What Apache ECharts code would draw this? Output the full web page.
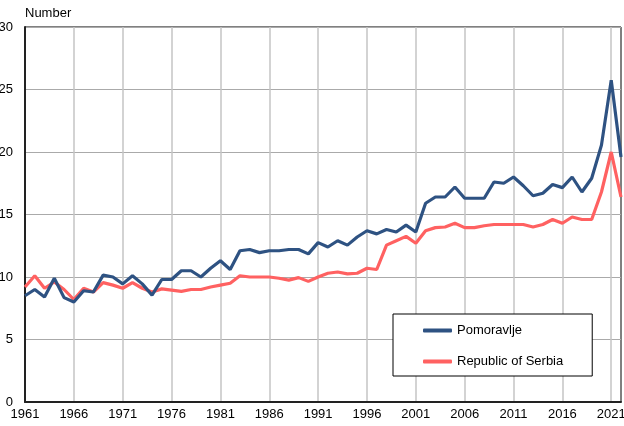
<!DOCTYPE html>
<html><head><meta charset="utf-8">
<script src="https://cdn.jsdelivr.net/npm/echarts@6/dist/echarts.min.js"></script>
<style>html,body{margin:0;padding:0;background:#fff}#c{width:624px;height:426px}</style>
</head><body><div id="c"></div>
<script>
const years = [];
for (let y = 1961; y <= 2022; y++) years.push(String(y));
const pomoravlje = [8.5,9.0,8.4,9.9,8.35,8.0,8.9,8.8,10.15,10.0,9.45,10.1,9.45,8.55,9.8,9.8,10.5,10.5,10.0,10.7,
  11.3,10.6,12.1,12.2,11.95,12.1,12.1,12.2,12.2,11.85,12.75,12.4,12.9,12.55,13.2,13.7,13.45,13.8,13.6,14.15,
  13.6,15.9,16.4,16.4,17.2,16.3,16.3,16.3,17.6,17.5,18.0,17.3,16.5,16.7,17.4,17.15,18.0,16.8,17.9,20.55,25.75,19.6];
const serbia = [9.2,10.1,9.1,9.6,9.0,8.2,9.1,8.8,9.55,9.35,9.1,9.55,9.1,8.8,9.05,8.95,8.85,9.0,9.0,9.2,
  9.35,9.5,10.1,10.0,10.0,10.0,9.9,9.75,9.95,9.65,10.0,10.3,10.4,10.25,10.3,10.7,10.6,12.55,12.9,13.25,
  12.7,13.7,13.95,14.0,14.3,13.95,13.95,14.1,14.2,14.2,14.2,14.2,14.0,14.2,14.6,14.3,14.8,14.6,14.6,16.8,20.0,16.4];
const seriesNames = ['Pomoravlje','Republic of Serbia'];
const yTicks = {min:0, max:30, interval:5};
const unitLabel = 'Number';

const font = '"Liberation Sans", Arial, sans-serif';
const chart = echarts.init(document.getElementById('c'), null, {renderer:'canvas'});
chart.setOption({
  animation:false,
  backgroundColor:'#fff',
  textStyle:{fontFamily:font},
  grid:{left:25,right:3,top:27,bottom:24,show:true,borderColor:'#000',borderWidth:1,containLabel:false,outerBoundsMode:'none'},
  graphic:[{type:'text',left:25,top:7,style:{text:unitLabel,font:'13px '+font,fill:'#000'}}],
  legend:{
    orient:'vertical',left:393,top:314,
    padding:[10,29,8,30],itemGap:18,
    borderColor:'#000',borderWidth:1,backgroundColor:'#fff',
    itemWidth:29,itemHeight:4,icon:'roundRect',
    textStyle:{fontSize:13,color:'#000',fontFamily:font,padding:[0,0,0,0]},
    data:seriesNames
  },
  xAxis:{
    type:'category',data:years,boundaryGap:false,
    axisLine:{lineStyle:{color:'#222',width:2}},
    axisTick:{show:false},
    axisLabel:{interval:4,color:'#000',fontSize:13,margin:6,fontFamily:font},
    splitLine:{show:true,interval:4,lineStyle:{color:'#c4c4c4',width:1.5}}
  },
  yAxis:{
    type:'value',min:yTicks.min,max:yTicks.max,interval:yTicks.interval,
    axisLine:{show:true,lineStyle:{color:'#222',width:2}},
    axisTick:{show:false},
    axisLabel:{color:'#000',fontSize:13,margin:12,fontFamily:font},
    splitLine:{show:true,lineStyle:{color:'#aaa',width:1}}
  },
  series:[
    {name:seriesNames[0],type:'line',data:pomoravlje,showSymbol:false,symbol:'none',
     lineStyle:{color:'#2e5282',width:3.2},itemStyle:{color:'#2e5282'},z:3},
    {name:seriesNames[1],type:'line',data:serbia,showSymbol:false,symbol:'none',
     lineStyle:{color:'#ff6161',width:3.2},itemStyle:{color:'#ff6161'},z:2}
  ]
});
</script></body></html>
